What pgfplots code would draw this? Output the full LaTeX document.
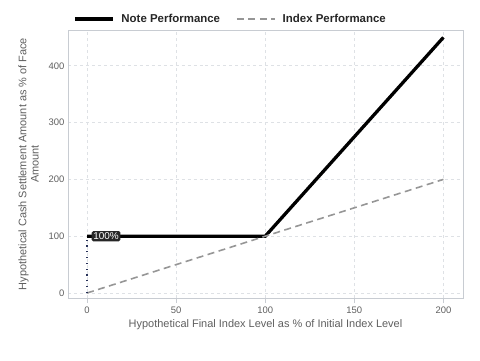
\documentclass[border=0pt]{standalone}
\usepackage{pgfplots}
\pgfplotsset{compat=1.18}
\usepackage{fontspec}
\setmainfont{Liberation Sans}
\definecolor{tickgray}{RGB}{95,95,95}
\definecolor{gridgray}{RGB}{222,225,229}
\definecolor{framegray}{RGB}{200,204,210}
\definecolor{idxgray}{RGB}{150,150,150}
\definecolor{dotblue}{RGB}{40,50,90}
\begin{document}
\begin{tikzpicture}[x=1bp,y=1bp]
\useasboundingbox (0,0) rectangle (480,360);
\begin{axis}[
  at={(68bp,62bp)}, anchor=south west,
  scale only axis, width=395bp, height=268bp,
  xmin=-10.7, xmax=211, ymin=-8.8, ymax=463,
  xtick={0,50,100,150,200}, ytick={0,100,200,300,400},
  grid=major,
  major grid style={dashed, gridgray, line width=0.6pt},
  axis line style={framegray, line width=0.7pt},
  tick style={framegray},
  xtick pos=bottom, ytick pos=left,
  xtick align=outside, ytick style={draw=none},
  major tick length=5bp,
  tick label style={font=\fontsize{9.5}{11}\selectfont, text=tickgray},
  /pgf/number format/assume math mode=true,
  xlabel={Hypothetical Final Index Level as \% of Initial Index Level},
  ylabel={Hypothetical Cash Settlement Amount as \% of Face\\Amount},
  ylabel style={align=center, font=\fontsize{11}{12.5}\selectfont, text=tickgray, yshift=3bp},
  xlabel style={font=\fontsize{11}{12.5}\selectfont, text=tickgray, yshift=1bp},
  legend style={at={(0.005,1.041)}, anchor=west, draw=none, fill=none,
    font=\bfseries\fontsize{11.5}{13}\selectfont, text=black!85,
    legend columns=2, /tikz/every even column/.append style={column sep=14bp}},
  legend image code/.code={\draw[#1] (0bp,0bp) -- (38bp,0bp); \path (43bp,0bp);},
]
\addplot[black, line width=3.3pt] coordinates {(0,100) (100,100) (200,450)};
\addlegendentry{Note Performance}
\addplot[idxgray, line width=1.6pt, dash pattern=on 7bp off 4.5bp] coordinates {(0,0) (200,200)};
\addlegendentry{Index Performance}
\addplot[dotblue, line width=1.5pt, dash pattern=on 1.3bp off 4.5bp, forget plot] coordinates {(0,0) (0,100)};
\node[fill=black!85, text=white, rounded corners=1.5bp, inner sep=1.6bp, anchor=west, font=\fontsize{10}{11}\selectfont] at (axis cs:2.5,100) {100\%};
\end{axis}
\end{tikzpicture}
\end{document}
